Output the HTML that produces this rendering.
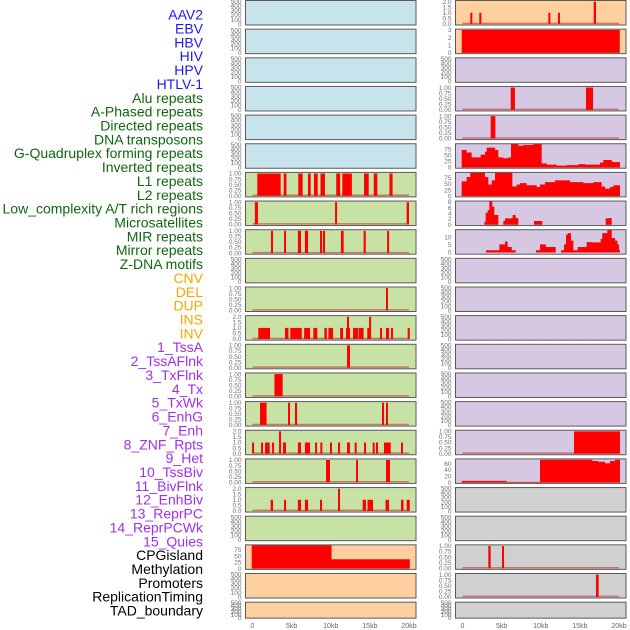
<!DOCTYPE html>
<html><head><meta charset="utf-8"><style>
html,body{margin:0;padding:0;background:#fff;}
svg{display:block;font-family:"Liberation Sans",sans-serif;}
</style></head><body>
<svg id="chart" width="630" height="630" viewBox="0 0 630 630" xmlns="http://www.w3.org/2000/svg"></svg>
<script>
// ---------- data ----------
const labels = ["AAV2","EBV","HBV","HIV","HPV","HTLV-1","Alu repeats","A-Phased repeats","Directed repeats","DNA transposons","G-Quadruplex forming repeats","Inverted repeats","L1 repeats","L2 repeats","Low_complexity A/T rich regions","Microsatellites","MIR repeats","Mirror repeats","Z-DNA motifs","CNV","DEL","DUP","INS","INV","1_TssA","2_TssAFlnk","3_TxFlnk","4_Tx","5_TxWk","6_EnhG","7_Enh","8_ZNF_Rpts","9_Het","10_TssBiv","11_BivFlnk","12_EnhBiv","13_ReprPC","14_ReprPCWk","15_Quies","CPGisland","Methylation","Promoters","ReplicationTiming","TAD_boundary"];
const labelGroups = ["v","v","v","v","v","v","r","r","r","r","r","r","r","r","r","r","r","r","r","s","s","s","s","s","c","c","c","c","c","c","c","c","c","c","c","c","c","c","c","o","o","o","o","o"];
const xTickKb = [0,5,10,15,20];
const xTickLabels = ["0","5kb","10kb","15kb","20kb"];
const ticksEmpty = ["0","100","200","300","400","500"];
const ticks01 = ["0.00","0.25","0.50","0.75","1.00"];
const ticks02 = ["0.0","0.5","1.0","1.5","2.0"];

const aluBars = [[0.61,3.6,1],[3.99,4.34,1],[5.85,6.4,1],[7.09,7.44,1],[7.86,8.33,1],[8.69,9.26,1],[10.7,11.2,1],[11.48,12.7,1],[14.25,14.85,1],[15.5,15.95,1],[17.5,17.9,1]];
const aPhasedBars = [[0.3,0.7,1],[10.55,10.75,1],[19.7,20.0,1]];
const directedBars = [[2.36,2.62,1],[4.03,4.24,1],[5.8,6.2,1],[6.7,7.1,1],[8.63,8.88,1],[9.0,9.27,1],[11.3,11.65,1],[14.2,14.47,1],[17.2,17.45,1]];
const gquadBars = [[17.06,17.3,1]];
const invertedBars = [[0.74,2.24,1],[4.15,4.6,1],[4.83,6.3,1],[6.6,7.35,1],[7.77,8.28,1],[9.18,9.5,1],[9.7,10.3,1],[11.2,11.57,1],[11.95,12.46,1],[12.08,12.3,2],[12.85,13.5,1],[13.57,14.2,1],[14.67,15.1,1],[14.9,15.15,2],[16.3,16.5,1],[17.06,17.45,1],[17.7,17.95,1],[19.83,20.1,1]];
const l1Bars = [[12.08,12.46,1]];
const l2Bars = [[2.8,3.85,1]];
const lowComplexBars = [[0.96,1.8,1],[4.54,4.75,1],[5.43,5.7,1],[16.55,16.8,1],[17.06,17.3,1]];
const microBars = [[-0.06,0.15,1],[1.09,1.3,1],[1.6,2.2,1],[2.5,2.75,1],[3.39,3.55,2],[3.9,4.28,1],[5.8,6.2,1],[6.7,7.35,1],[8.0,8.24,1],[8.67,8.88,1],[9.9,10.16,1],[10.93,11.18,1],[12.08,12.46,1],[13.06,13.3,1],[14.25,14.5,1],[15.36,15.6,1],[15.78,16.04,1],[16.8,17.66,1],[18.98,19.23,1]];
const mirBars = [[9.4,9.9,1],[13.23,13.48,1],[17.06,17.57,1]];
const mirrorBars = [[2.32,2.62,1],[4.03,4.28,1],[5.8,6.2,1],[6.7,7.1,1],[8.63,8.88,1],[10.93,11.18,2],[14.08,14.5,1],[14.7,15.4,1],[17.0,17.45,1],[18.98,19.3,1],[19.7,20.1,1]];
const cnvEdges = [-0.1,10.1,20.1];
const cnvValues = [95,38];

const insBars = [[1.0,1.2,1],[2.15,2.4,1],[10.97,11.14,1],[12.2,12.4,1],[16.77,17.06,2]];
const invEdges = [-0.1,20.1];
const invValues = [3];
const tssAFlnkBars = [[6.16,6.7,1],[15.78,16.68,1]];
const txFlnkBars = [[3.6,4.2,1]];
const txEdges = [-0.11,0.53,1.17,2.32,2.88,3.09,4.16,4.58,5.22,5.86,6.2,7.14,7.78,9.05,10.12,10.76,12.03,13.31,14.8,15.66,17.57,18.0,19.07,19.28,20.13];
const txValues = [72,62,42,53,65,82,72,42,38,42,97,90,93,97,17,12,8,10,14,12,20,31,25,22];
const txWkEdges = [-0.11,0.53,0.99,2.88,3.3,3.73,4.16,6.37,6.92,7.35,8.2,9.48,9.9,10.54,11.82,13.74,15.45,16.72,17.78,18.21,18.85,19.28,20.13];
const txWkValues = [61,79,97,79,48,65,97,40,48,54,45,38,48,58,65,58,54,58,40,31,38,45];
const enhGEdges = [2.79,2.96,3.22,3.43,3.81,4.07,4.58,5.22,5.43,6.41,6.79,7.14,9.14,10.2,18.3,18.64,19.07];
const enhGValues = [1,4.2,5.1,8.5,6.3,3.4,0,1.3,2.2,3.4,2.3,0,1.3,0,2.2,2.3];
const enhEdges = [3.0,4.71,5.43,5.77,6.29,6.79,9.39,9.9,10.67,11.91,12.59,12.97,13.23,13.44,13.87,14.17,14.72,15.87,16.51,17.66,17.87,18.51,19.07,19.5,19.8,20.0,20.13];
const enhValues = [1.5,5.3,7.2,3.6,1.5,0,1.5,5.3,3.6,0,1.5,5.3,11.7,12.7,7.8,1.5,3.6,6.8,6.6,8.9,12.7,15,9.5,7.8,5.3,1.5];
const reprPCWkBars = [[14.25,20.13,1]];
const quiesEdges = [-0.11,5.64,9.9,16.59,17.36,18.21,18.85,19.49,20.13];
const quiesValues = [5.4,2.5,72,68,66,61,68,72];
const promoterBars = [[3.3,3.6,1],[5.05,5.27,1]];
const replicationBars = [[17.06,17.4,1]];

// ---------- panels ----------
const BG = {v:"#c7e3eb", r:"#c8e1a4", s:"#fed09f", c:"#d6c7e3", o:"#d0d0d0"};
const TXT = {v:"#1a1aff", r:"#116611", s:"#ffa500", c:"#a030f0", o:"#000000"};
const panels = [
 {c:0,r:0,g:"v",k:"empty"},{c:0,r:1,g:"v",k:"empty"},{c:0,r:2,g:"v",k:"empty"},{c:0,r:3,g:"v",k:"empty"},{c:0,r:4,g:"v",k:"empty"},{c:0,r:5,g:"v",k:"empty"},
 {c:0,r:6,g:"r",k:"bars",d:aluBars,t:ticks01,tv:[0,0.25,0.5,0.75,1],y0:-0.05,y1:1.05},
 {c:0,r:7,g:"r",k:"bars",d:aPhasedBars,t:ticks01,tv:[0,0.25,0.5,0.75,1],y0:-0.05,y1:1.05},
 {c:0,r:8,g:"r",k:"bars",d:directedBars,t:ticks01,tv:[0,0.25,0.5,0.75,1],y0:-0.05,y1:1.05},
 {c:0,r:9,g:"r",k:"empty"},
 {c:0,r:10,g:"r",k:"bars",d:gquadBars,t:ticks01,tv:[0,0.25,0.5,0.75,1],y0:-0.05,y1:1.05},
 {c:0,r:11,g:"r",k:"bars",d:invertedBars,t:ticks02,tv:[0,0.5,1,1.5,2],y0:-0.1,y1:2.1},
 {c:0,r:12,g:"r",k:"bars",d:l1Bars,t:ticks01,tv:[0,0.25,0.5,0.75,1],y0:-0.05,y1:1.05},
 {c:0,r:13,g:"r",k:"bars",d:l2Bars,t:ticks01,tv:[0,0.25,0.5,0.75,1],y0:-0.05,y1:1.05},
 {c:0,r:14,g:"r",k:"bars",d:lowComplexBars,t:ticks01,tv:[0,0.25,0.5,0.75,1],y0:-0.05,y1:1.05},
 {c:0,r:15,g:"r",k:"bars",d:microBars,t:ticks02,tv:[0,0.5,1,1.5,2],y0:-0.1,y1:2.1},
 {c:0,r:16,g:"r",k:"bars",d:mirBars,t:ticks01,tv:[0,0.25,0.5,0.75,1],y0:-0.05,y1:1.05},
 {c:0,r:17,g:"r",k:"bars",d:mirrorBars,t:ticks02,tv:[0,0.5,1,1.5,2],y0:-0.1,y1:2.1},
 {c:0,r:18,g:"r",k:"empty"},
 {c:0,r:19,g:"s",k:"area",e:cnvEdges,d:cnvValues,t:["0","25","50","75"],tv:[0,25,50,75],y0:-3,y1:96},
 {c:0,r:20,g:"s",k:"empty"},{c:0,r:21,g:"s",k:"empty"},
 {c:1,r:0,g:"s",k:"bars",d:insBars,t:ticks02,tv:[0,0.5,1,1.5,2],y0:-0.1,y1:2.1},
 {c:1,r:1,g:"s",k:"area",e:invEdges,d:invValues,t:["0","1","2","3"],tv:[0,1,2,3],y0:-0.1,y1:3.1},
 {c:1,r:2,g:"c",k:"empty"},
 {c:1,r:3,g:"c",k:"bars",d:tssAFlnkBars,t:ticks01,tv:[0,0.25,0.5,0.75,1],y0:-0.05,y1:1.05},
 {c:1,r:4,g:"c",k:"bars",d:txFlnkBars,t:ticks01,tv:[0,0.25,0.5,0.75,1],y0:-0.05,y1:1.05},
 {c:1,r:5,g:"c",k:"area",e:txEdges,d:txValues,t:["0","25","50","75"],tv:[0,25,50,75],y0:-3,y1:98},
 {c:1,r:6,g:"c",k:"area",e:txWkEdges,d:txWkValues,t:["0","25","50","75"],tv:[0,25,50,75],y0:-3,y1:98},
 {c:1,r:7,g:"c",k:"area",e:enhGEdges,d:enhGValues,t:["0","2","4","6","8"],tv:[0,2,4,6,8],y0:-0.3,y1:8.3},
 {c:1,r:8,g:"c",k:"area",e:enhEdges,d:enhValues,t:["0","5","10"],tv:[0,5,10],y0:-1.1,y1:14.9},
 {c:1,r:9,g:"c",k:"empty"},{c:1,r:10,g:"c",k:"empty"},{c:1,r:11,g:"c",k:"empty"},{c:1,r:12,g:"c",k:"empty"},{c:1,r:13,g:"c",k:"empty"},{c:1,r:14,g:"c",k:"empty"},
 {c:1,r:15,g:"c",k:"bars",d:reprPCWkBars,t:ticks01,tv:[0,0.25,0.5,0.75,1],y0:-0.05,y1:1.05},
 {c:1,r:16,g:"c",k:"area",e:quiesEdges,d:quiesValues,t:["0","20","40","60"],tv:[0,20,40,60],y0:-2.5,y1:74.8},
 {c:1,r:17,g:"o",k:"empty"},{c:1,r:18,g:"o",k:"empty"},
 {c:1,r:19,g:"o",k:"bars",d:promoterBars,t:ticks01,tv:[0,0.25,0.5,0.75,1],y0:-0.05,y1:1.05},
 {c:1,r:20,g:"o",k:"bars",d:replicationBars,t:ticks01,tv:[0,0.25,0.5,0.75,1],y0:-0.05,y1:1.05},
 {c:1,r:21,g:"o",k:"empty"}
];

// ---------- drawing ----------
const NS = "http://www.w3.org/2000/svg";
const svg = document.getElementById("chart");
function mk(tag, attrs, parent){
  const el = document.createElementNS(NS, tag);
  for (const k in attrs) el.setAttribute(k, attrs[k]);
  (parent||svg).appendChild(el);
  return el;
}
const PX = [245.5, 455.5], PW = 170.5;
const X0 = [252.5, 462.5], KB = 7.825;
function xScale(col, kb){ return X0[col] + kb*KB; }
function rowTop(r){ return 0.5 + r*28.65; }
function rowH(r){ return r===21 ? 16 : 24.5; }
function yScale(p, v){
  const t = rowTop(p.r), h = rowH(p.r);
  return t + h - (v - p.y0)/(p.y1 - p.y0)*h;
}

labels.forEach((txt,i)=>{
  const t = mk("text",{x:203,y:19.6+i*13.86,"text-anchor":"end","font-size":"14",fill:TXT[labelGroups[i]]});
  t.textContent = txt;
  
  
});

panels.forEach(p=>{
  const g = mk("g",{});
  const idx = p.c===0 ? p.r : 22 + p.r;
  
  
  const top = rowTop(p.r), h = rowH(p.r), left = PX[p.c];
  const bg = mk("rect",{x:left,y:top,width:PW,height:h,fill:BG[p.g]},g);
  
  
  let tickVals, tickLabs;
  if (p.k==="empty"){
    p.y0 = -20; p.y1 = 520;
    tickVals = [0,100,200,300,400,500]; tickLabs = ticksEmpty;
  } else { tickVals = p.tv; tickLabs = p.t; }
  tickVals.forEach((v,i)=>{
    const tl = mk("text",{x:left-4,y:yScale(p,v)+2.2,"text-anchor":"end","font-size":"6.5",fill:"#707070"},g);
    tl.textContent = tickLabs[i];
    
    
  });
  if (p.k==="bars"){
    const base = mk("line",{x1:xScale(p.c,0),x2:xScale(p.c,20),y1:yScale(p,0)-0.5,y2:yScale(p,0)-0.5,stroke:"rgba(190,40,40,0.55)","stroke-width":1.5},g);
    
    
    p.d.forEach(b=>{
      const x1 = xScale(p.c,b[0]), x2 = xScale(p.c,b[1]);
      const w = Math.max(2, x2-x1);
      const yt = yScale(p,b[2]), yb = yScale(p,0);
      const r = mk("rect",{x:x1,y:yt,width:w,height:yb-yt,fill:"#ff0000"},g);
      
      
    });
  } else if (p.k==="area"){
    const yb = yScale(p,0);
    let d = "M" + xScale(p.c,p.e[0]) + "," + yb;
    p.d.forEach((v,i)=>{
      const yv = Math.max(top, yScale(p,v));
      d += " L" + xScale(p.c,p.e[i]) + "," + yv + " L" + xScale(p.c,p.e[i+1]) + "," + yv;
    });
    d += " L" + xScale(p.c,p.e[p.e.length-1]) + "," + yb + " Z";
    const a = mk("path",{d:d,fill:"#ff0000"},g);
    
    
  }
  const fr = mk("rect",{x:left,y:top,width:PW,height:h,fill:"none",stroke:"#5a5a5a","stroke-width":1},g);
  
  
});

[0,1].forEach(c=>{
  xTickKb.forEach((kb,i)=>{
    const t = mk("text",{x:xScale(c,kb),y:628,"text-anchor":"middle","font-size":"7",fill:"#666"});
    t.textContent = xTickLabels[i];
    
    
  });
});
</script>
</body></html>
